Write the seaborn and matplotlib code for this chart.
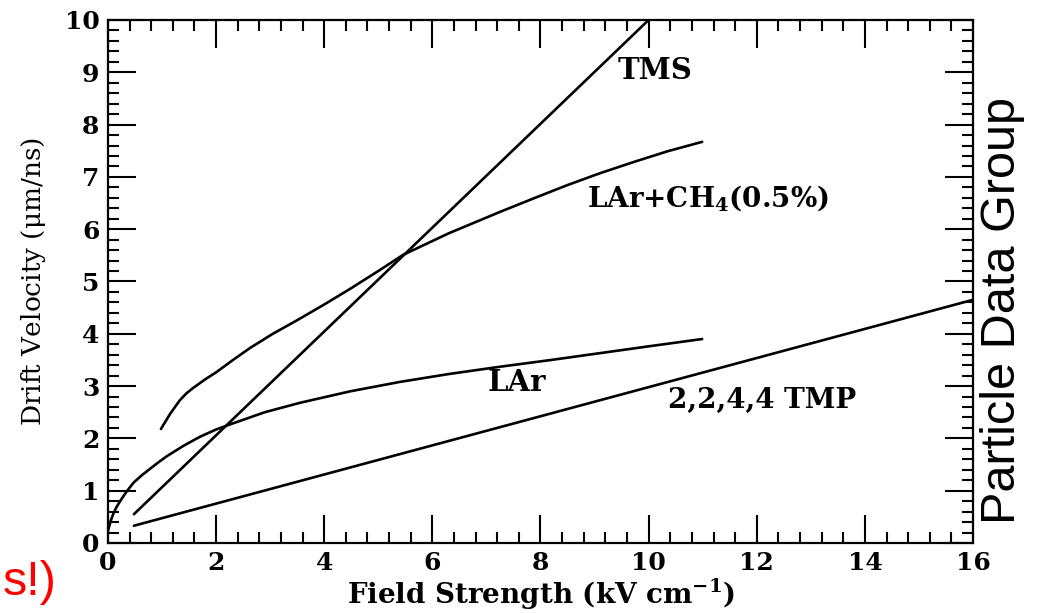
import numpy as np
import pandas as pd
import matplotlib
matplotlib.use("Agg")
import matplotlib.pyplot as plt
import seaborn as sns
from matplotlib.ticker import MultipleLocator

# Valores (campo en kV/cm, velocidad en um/ns)
tms_x = [0.48, 10.0]
tms_y = [0.55, 10.0]

tmp_x = [0.48, 16.0]
tmp_y = [0.33, 4.65]

lar_x = [0.0, 0.05, 0.1, 0.16, 0.25, 0.35, 0.47, 0.62, 0.78, 0.93, 1.09, 1.4, 1.7,
         2.0, 2.32, 2.9, 3.55, 4.48, 5.4, 6.3, 7.25, 8.2, 9.1, 10.0, 10.99]
lar_y = [0.23, 0.42, 0.56, 0.69, 0.84, 0.99, 1.15, 1.29, 1.42, 1.54, 1.66, 1.86, 2.03,
         2.17, 2.29, 2.5, 2.68, 2.9, 3.08, 3.23, 3.37, 3.5, 3.63, 3.76, 3.9]

ch4_x = [0.98, 1.15, 1.33, 1.45, 1.57, 1.8, 2.01, 2.3, 2.63, 3.05, 3.5, 4.0, 4.48,
         5.0, 5.46, 6.3, 7.25, 7.9, 8.49, 9.1, 9.71, 10.35, 10.99]
ch4_y = [2.18, 2.47, 2.73, 2.86, 2.96, 3.13, 3.27, 3.49, 3.73, 4.0, 4.26, 4.56, 4.86,
         5.2, 5.51, 5.92, 6.33, 6.6, 6.84, 7.07, 7.28, 7.49, 7.67]

series = [("TMS", tms_x, tms_y), ("TMP", tmp_x, tmp_y),
          ("LAr", lar_x, lar_y), ("LArCH4", ch4_x, ch4_y)]
frames = []
for name, xs, ys in series:
    frames.append(pd.DataFrame({"field": xs, "velocity": ys, "gas": name}))
data = pd.concat(frames, ignore_index=True)

sns.set_style("ticks")
plt.rcParams["font.family"] = ["DejaVu Serif"]
plt.rcParams["mathtext.fontset"] = "dejavuserif"
plt.rcParams["mathtext.default"] = "bf"
plt.rcParams["text.color"] = "black"
plt.rcParams["axes.labelcolor"] = "black"

fig = plt.figure(figsize=(10.41, 6.13), dpi=100)
ax = fig.add_axes([0.1037, 0.1142, 0.831, 0.8532])

for name, _, _ in series:
    sub = data[data["gas"] == name]
    sns.lineplot(data=sub, x="field", y="velocity", ax=ax, color="black",
                 linewidth=1.9, sort=False, estimator=None)

ax.set_xlim(0, 16)
ax.set_ylim(0, 10)
ax.xaxis.set_major_locator(MultipleLocator(2))
ax.xaxis.set_minor_locator(MultipleLocator(0.4))
ax.yaxis.set_major_locator(MultipleLocator(1))
ax.yaxis.set_minor_locator(MultipleLocator(0.2))
ax.tick_params(which="both", direction="in", top=True, right=True, width=1.5, colors="black")
ax.tick_params(which="major", length=20, labelsize=18, pad=6)
ax.tick_params(which="minor", length=8)
for lab in ax.get_xticklabels() + ax.get_yticklabels():
    lab.set_fontweight("bold")
for sp in ax.spines.values():
    sp.set_linewidth(1.6)
    sp.set_color("black")

ax.set_xlabel("Field Strength (kV cm$^{-1}$)", fontsize=20, fontweight="bold", labelpad=1)
ax.set_ylabel("Drift Velocity ($\\mathregular{\\mu}$m/ns)", fontsize=19, fontweight="normal", labelpad=12)

ax.text(10.12, 9.04, "TMS", fontsize=21, fontweight="bold", ha="center", va="center")
ax.text(11.1, 6.6, "LAr+CH$_4$(0.5%)", fontsize=20, fontweight="bold", ha="center", va="center")
ax.text(7.57, 3.06, "LAr", fontsize=21, fontweight="bold", ha="center", va="center")
ax.text(12.1, 2.73, "2,2,4,4 TMP", fontsize=20, fontweight="bold", ha="center", va="center")

fig.text(0.963, 0.494, "Particle Data Group", rotation=90, fontsize=35,
         family=["Liberation Sans"], ha="center", va="center")
fig.text(0.003, 0.049, "s!)", fontsize=35, color="red",
         family=["Liberation Sans"], ha="left", va="center")

fig.savefig("out.png", dpi=100)
